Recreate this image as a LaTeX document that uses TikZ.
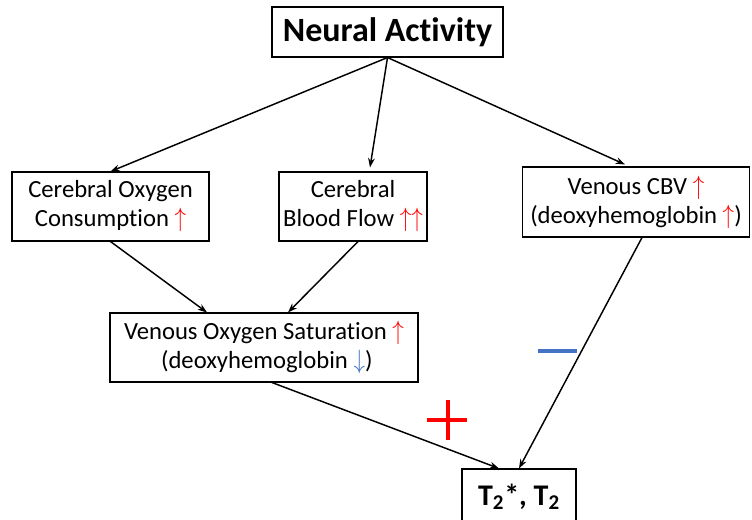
\documentclass[tikz,border=0pt]{standalone}
\usepackage{fontspec}
\setmainfont{Carlito}[Ligatures={NoCommon}]
\usetikzlibrary{arrows.meta}
\definecolor{upred}{RGB}{255,0,0}
\definecolor{downblue}{RGB}{68,114,196}
\newcommand{\up}{{\color{upred}\scalebox{1}[1.15]{$\uparrow$}}}
\newcommand{\down}{{\color{downblue}\scalebox{1}[1.15]{$\downarrow$}}}

\begin{document}
\begin{tikzpicture}[x=0.75pt,y=-0.75pt,
  box/.style={draw,line width=0.8pt,align=center,inner sep=0pt,
    font=\fontsize{18.5}{21.75}\selectfont},
  link/.style={line width=1.1pt,-{Stealth[length=7pt,width=5pt]}}]
\clip (0,0) rectangle (752,520);
\node[box,minimum width=173.25pt,minimum height=37.5pt,
  font=\fontsize{25.5}{28}\selectfont\bfseries] (act) at (387.5,32) {Neural Activity};
\node[box,minimum width=147.75pt,minimum height=51.75pt] (cmro) at (110.5,206.5) {Cerebral Oxygen\\Consumption \up};
\node[box,minimum width=111pt,minimum height=51.75pt] (cbf) at (353,206.5) {Cerebral\\Blood Flow \up\up};
\node[box,minimum width=170.25pt,minimum height=52.5pt] (cbv) at (636,202) {Venous CBV \up\\(deoxyhemoglobin \up)};
\node[box,minimum width=231pt,minimum height=51.75pt] (sat) at (264,347.5) {Venous Oxygen Saturation \up\\\ (deoxyhemoglobin \down)};
\node[box,minimum width=85.5pt,minimum height=42pt,
  font=\fontsize{22.5}{26}\selectfont\bfseries] (relax) at (519,497) {T\textsubscript{2}*, T\textsubscript{2}};
% connectors
\draw[link] (act.south) -- (cmro.north);
\draw[link] (act.south) -- ([xshift=12.75pt,yshift=3pt]cbf.north);
\draw[link] (act.south) -- ([xshift=-8.25pt,yshift=1.5pt]cbv.north);
\draw[link] (cmro.south) -- ([xshift=-42.75pt]sat.north);
\draw[link] ([xshift=3.75pt]cbf.south) -- ([xshift=18pt]sat.north);
\draw[link] ([xshift=6pt]sat.south) -- ([xshift=-15pt]relax.north);
\draw[link] ([xshift=4.5pt]cbv.south) -- (relax.north);
% signs
\draw[upred,line width=3pt] (427,420) -- (467,420) (448,400) -- (448,440);
\draw[downblue,line width=2.4pt] (538,351) -- (577,351);
\end{tikzpicture}
\end{document}
